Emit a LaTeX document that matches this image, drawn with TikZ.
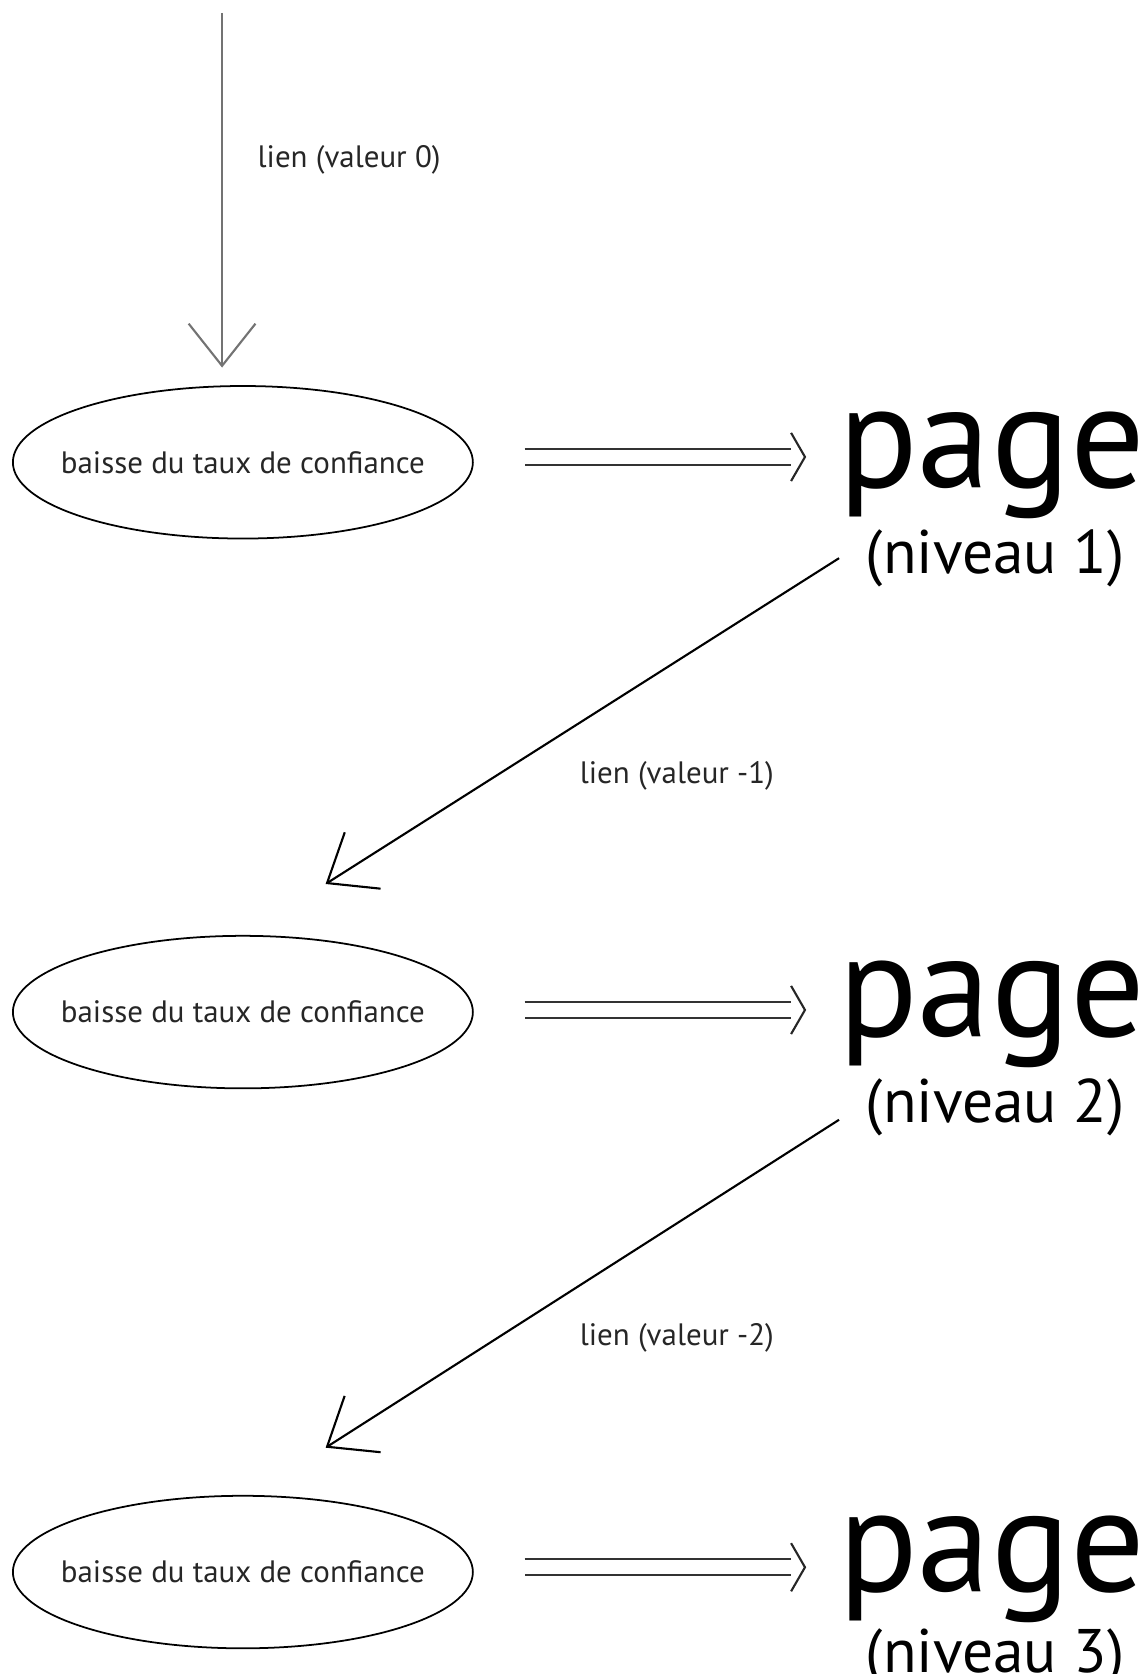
\documentclass[tikz,border=0pt]{standalone}
\usepackage{fontspec}
\setmainfont{PT Sans}
\usetikzlibrary{shapes.geometric,arrows.meta,positioning}

\begin{document}
\begin{tikzpicture}
[x=0.021344cm,y=-0.021344cm,
every node/.style={font=\fontsize{17.6}{21}\selectfont,text=black!85},
baisse/.style={ellipse,draw,line width=1pt,inner xsep=-11pt,inner ysep=0pt,
  minimum width=9.18cm,minimum height=3.05cm},
grand/.style={font=\fontsize{84}{88}\selectfont,inner sep=0pt,text=black},
niveau/.style={font=\fontsize{35}{39}\selectfont,inner sep=0pt,text=black},
lien/.style={line width=1.2pt,-{Straight Barb[length=24pt,width=38pt,line width=1.2pt]}},
vers/.style={double,double distance=7.9pt,line width=1.2pt,draw=black!80,shorten <=29pt,shorten >=7.9pt},
pointe/.style={line width=1.2pt,draw=black!85}]
\useasboundingbox (0,0) rectangle (1072,1568);
\coordinate (haut) at (208,12);
\node (l0) at (327,150) {lien (valeur 0)};
\node[baisse] (e1) at (227.5,433) {baisse du taux de confiance};
\node[grand,anchor=base] (p1) at (929,457) {page};
\node[niveau,anchor=base] (n1) at (932,537) {(niveau 1)};
\coordinate (d1) at (754,428);
\coordinate (b1) at (305,828);
\node (l1) at (634,727) {lien (valeur -1)};
\node[baisse] (e2) at (227.5,948) {baisse du taux de confiance};
\node[grand,anchor=base] (p2) at (929,971) {page};
\node[niveau,anchor=base] (n2) at (932,1051) {(niveau 2)};
\coordinate (d2) at (754,946);
\coordinate (b2) at (305,1356);
\node (l2) at (634,1253) {lien (valeur -2)};
\node[baisse] (e3) at (227.5,1472.5) {baisse du taux de confiance};
\node[grand,anchor=base] (p3) at (929,1491) {page};
\node[niveau,anchor=base] (n3) at (932,1567) {(niveau 3)};
\coordinate (d3) at (754,1468);
\draw[lien,draw=black!55,shorten >=10pt] (haut) -- (haut |- e1.north);
\foreach \de/\vers/\dy in {n1/b1/0pt,n2/b2/-7.3pt}
\draw[lien] ([xshift=-15pt,yshift=\dy]\de.west) -- (\vers);
\foreach \de/\d in {e1/d1,e2/d2,e3/d3}{
\draw[vers] (\de.east |- \d) -- (\d);
\draw[pointe] ([shift={(-7.9pt,13.7pt)}]\d) -- (\d) -- ([shift={(-7.9pt,-13.7pt)}]\d);
}
\end{tikzpicture}
\end{document}
